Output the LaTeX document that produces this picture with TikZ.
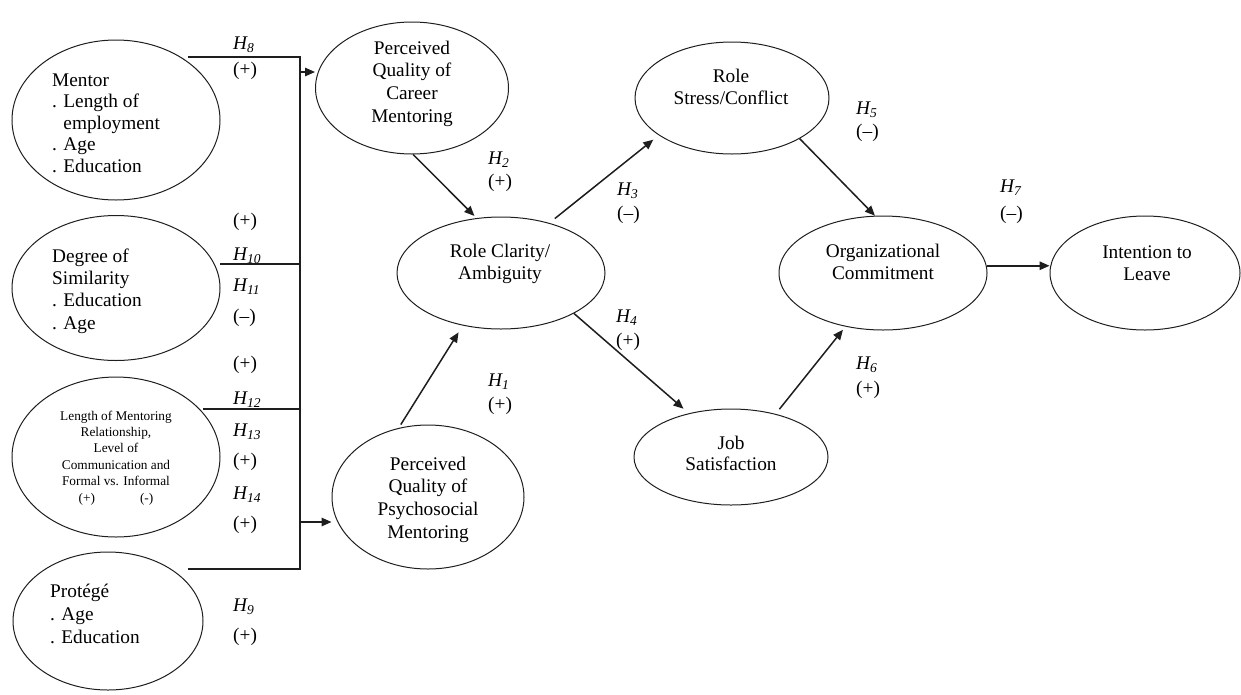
\documentclass[tikz,border=0pt]{standalone}
\usepackage{fontspec}
\setmainfont{Liberation Serif}
\usetikzlibrary{shapes.geometric,arrows.meta}
\newcommand\Hlab[1]{\textit{H\textsubscript{#1}}}
\definecolor{ink}{RGB}{30,30,30}
\begin{document}
\begin{tikzpicture}[x=1pt,y=-1pt,
  ell/.style={draw=ink, ellipse, line width=1pt, inner sep=0pt},
  txt/.style={font=\fontsize{19.3}{22.5}\selectfont, inner sep=0pt, align=center, anchor=north},
  ltxt/.style={txt, align=left, anchor=north west},
  lab/.style={font=\fontsize{19.3}{22.5}\selectfont, inner sep=0pt, anchor=west},
  arr/.style={draw=ink, line width=1.5pt, -{Triangle[length=10pt,width=8.5pt]}},
  brk/.style={draw=ink, line width=1.3pt}]
\useasboundingbox (0,0) rectangle (1241,694);

% ellipses
\node[ell, minimum width=208pt, minimum height=160pt] (mentor) at (116,120) {};
\node[ell, minimum width=208pt, minimum height=145pt] (degree) at (116,288) {};
\node[ell, minimum width=208pt, minimum height=160pt] (length) at (116,457) {};
\node[ell, minimum width=190pt, minimum height=138pt] (protege) at (108,621) {};
\node[ell, minimum width=193pt, minimum height=132pt] (career) at (412,88) {};
\node[ell, minimum width=208pt, minimum height=112pt] (rolecl) at (501,273) {};
\node[ell, minimum width=192pt, minimum height=144pt] (psycho) at (428,497) {};
\node[ell, minimum width=194pt, minimum height=112pt] (rolestress) at (732,98) {};
\node[ell, minimum width=194pt, minimum height=96pt] (jobsat) at (731,457) {};
\node[ell, minimum width=208pt, minimum height=114pt] (org) at (883,273) {};
\node[ell, minimum width=190pt, minimum height=114pt] (intent) at (1145,273) {};

% texts
\node[ltxt, font=\fontsize{19.3}{21.5}\selectfont] (mentorT) at (52,73.5) {Mentor\\. Length of\\\hphantom{. }employment\\. Age\\. Education};
\node[ltxt, font=\fontsize{19.3}{22.3}\selectfont] (degreeT) at (52,248.5) {Degree of\\Similarity\\. Education\\. Age};
\node[ltxt, font=\fontsize{19.3}{23}\selectfont] (protegeT) at (50,583.5) {Protégé\\. Age\\. Education};
\node[txt, font=\fontsize{13.3}{16.4}\selectfont] (lengthT) at (116,410.5) {Length of Mentoring\\Relationship,\\Level of\\Communication and\\Formal vs. Informal\\(+)\hspace{45pt}(-)};
\node[txt, font=\fontsize{19.3}{22.7}\selectfont] (careerT) at (412,40.5) {Perceived\\Quality of\\Career\\Mentoring};
\node[txt] (rolaclT) at (500,243.5) {Role Clarity/\\Ambiguity};
\node[txt, font=\fontsize{19.3}{22.7}\selectfont] (psychoT) at (428,456.5) {Perceived\\Quality of\\Psychosocial\\Mentoring};
\node[txt] (rolestressT) at (731,68.5) {Role\\Stress/Conflict};
\node[txt] (orgT) at (883,243.5) {Organizational\\Commitment};
\node[txt] (intentT) at (1147,245.5) {Intention to\\Leave};
\node[txt, font=\fontsize{19.3}{21.5}\selectfont] (jobT) at (731,435.5) {Job\\Satisfaction};

% bracket
\coordinate (bt) at (300,57);
\coordinate (bb) at (300,569);
\coordinate (s8) at (188,57);
\coordinate (s10) at (220,264);
\coordinate (s12) at (203,409);
\coordinate (s9) at (188,569);
\coordinate (j10) at (300,264);
\coordinate (j12) at (300,409);
\coordinate (a1) at (300,72);
\coordinate (a2) at (300,522);
\draw[brk] (s8) -- (bt) -- (bb) -- (s9);
\draw[brk] (s10) -- (j10);
\draw[brk] (s12) -- (j12);
\draw[arr] (a1) -- (a1 -| career.west);
\draw[arr] (a2) -- (a2 -| psycho.west);

% arrows
\draw[arr, shorten >=3pt] (career.-89) -- (rolecl.114);
\draw[arr, shorten <=4pt, shorten >=8pt] (psycho.113) -- (rolecl.234);
\draw[arr, shorten <=7pt, shorten >=7pt] (rolecl.46) -- (rolestress.207);
\draw[arr, shorten >=7pt] (rolecl.331) -- (jobsat.134);
\draw[arr] (rolestress.329) -- (org.98);
\draw[arr, shorten <=6pt, shorten >=4pt] (jobsat.44) -- (org.235);
\draw[arr] (org.4) -- (org.4 -| intent.west);

% labels left
\node[lab] (l8) at (233,45) {\Hlab{8}};
\node[lab] (l8s) at (233,71) {(+)};
\node[lab] (l10s) at (233,222) {(+)};
\node[lab] (l10) at (233,256) {\Hlab{10}};
\node[lab] (l11) at (233,287) {\Hlab{11}};
\node[lab] (l11s) at (233,318) {(--)};
\node[lab] (l12s) at (233,365) {(+)};
\node[lab] (l12) at (233,400) {\Hlab{12}};
\node[lab] (l13) at (233,432) {\Hlab{13}};
\node[lab] (l13s) at (233,462) {(+)};
\node[lab] (l14) at (233,495) {\Hlab{14}};
\node[lab] (l14s) at (233,525) {(+)};
\node[lab] (l9) at (233,607) {\Hlab{9}};
\node[lab] (l9s) at (233,637) {(+)};

% labels right
\node[lab] (l2) at (488,160) {\Hlab{2}};
\node[lab] (l2s) at (488,183) {(+)};
\node[lab] (l3) at (617,191) {\Hlab{3}};
\node[lab] (l3s) at (617,215) {(--)};
\node[lab] (l4) at (616,318) {\Hlab{4}};
\node[lab] (l4s) at (616,342) {(+)};
\node[lab] (l1) at (488,382) {\Hlab{1}};
\node[lab] (l1s) at (488,406) {(+)};
\node[lab] (l5) at (856,110) {\Hlab{5}};
\node[lab] (l5s) at (856,133) {(--)};
\node[lab] (l6) at (856,365) {\Hlab{6}};
\node[lab] (l6s) at (856,390) {(+)};
\node[lab] (l7) at (1000,188) {\Hlab{7}};
\node[lab] (l7s) at (1000,215) {(--)};
\end{tikzpicture}
\end{document}
